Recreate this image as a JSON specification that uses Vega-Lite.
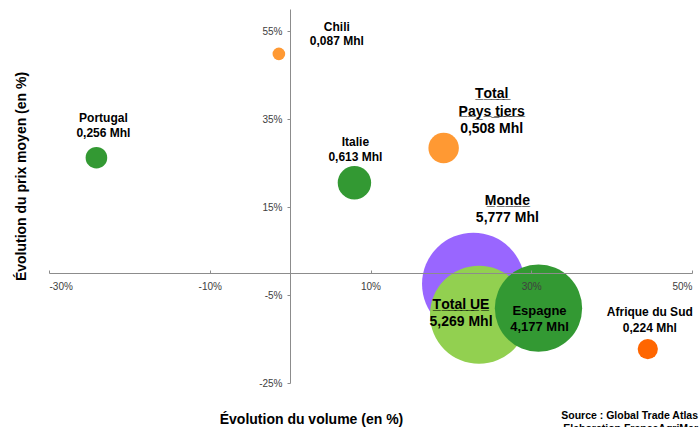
{
  "$schema": "https://vega.github.io/schema/vega-lite/v6.json",
  "width": 643,
  "height": 374,
  "autosize": "none",
  "padding": {"left": 49, "top": 9, "right": 7, "bottom": 44},
  "config": {
    "view": {"stroke": null},
    "font": "Liberation Sans",
    "text": {"font": "Liberation Sans"}
  },
  "title": {
    "text": ["Source : Global Trade Atlas", "Elaboration FranceAgriMer"],
    "orient": "bottom",
    "anchor": "end",
    "frame": "group",
    "fontSize": 10.5,
    "fontWeight": "bold",
    "color": "#000000",
    "lineHeight": 13,
    "offset": -15,
    "dx": 6
  },
  "data": {
    "values": [
      {"nom": "Monde", "groupe": "Monde", "volume": 5.777, "evol_volume": 22.8, "evol_prix": -2.5, "label": "M\u0332o\u0332n\u0332d\u0332e\u0332\n5,777 Mhl"},
      {"nom": "Total UE", "groupe": "Total UE", "volume": 5.269, "evol_volume": 23.5, "evol_prix": -9.5, "label": "T\u0332o\u0332t\u0332a\u0332l\u0332 \u0332U\u0332E\u0332\n5,269 Mhl"},
      {"nom": "Espagne", "groupe": "UE", "volume": 4.177, "evol_volume": 30.9, "evol_prix": -8.0, "label": "Espagne\n4,177 Mhl"},
      {"nom": "Italie", "groupe": "UE", "volume": 0.613, "evol_volume": 8.0, "evol_prix": 20.5, "label": "Italie\n0,613 Mhl"},
      {"nom": "Portugal", "groupe": "UE", "volume": 0.256, "evol_volume": -24.1, "evol_prix": 26.2, "label": "Portugal\n0,256 Mhl"},
      {"nom": "Total Pays tiers", "groupe": "Pays tiers", "volume": 0.508, "evol_volume": 19.1, "evol_prix": 28.4, "label": "T\u0332o\u0332t\u0332a\u0332l\u0332\nP\u0332a\u0332y\u0332s\u0332 \u0332t\u0332i\u0332e\u0332r\u0332s\u0332\n0,508 Mhl"},
      {"nom": "Chili", "groupe": "Pays tiers", "volume": 0.087, "evol_volume": -1.4, "evol_prix": 49.8, "label": "Chili\n0,087 Mhl"},
      {"nom": "Afrique du Sud", "groupe": "Afrique du Sud", "volume": 0.224, "evol_volume": 44.5, "evol_prix": -17.3, "label": "Afrique du Sud\n0,224 Mhl"}
    ]
  },
  "encoding": {
    "x": {
      "field": "evol_volume",
      "type": "quantitative",
      "scale": {"domain": [-30, 50], "nice": false, "zero": false},
      "axis": {
        "values": [-30, -10, 10, 30, 50],
        "labelExpr": "datum.value + '%'",
        "offset": -110,
        "zindex": 1,
        "grid": false,
        "domainColor": "#8c8c8c",
        "tickColor": "#8c8c8c",
        "tickSize": -3,
        "labelPadding": 11,
        "labelFontSize": 10,
        "labelColor": "#404040",
        "labelFont": "Liberation Sans",
        "title": "Évolution du volume (en %)",
        "titleFont": "Liberation Sans",
        "titleFontSize": 14,
        "titleFontWeight": "bold",
        "titleColor": "#000000",
        "titleX": 262,
        "titleY": 150,
        "titleAlign": "center",
        "titleBaseline": "alphabetic",
        "titleAnchor": null
      }
    },
    "y": {
      "field": "evol_prix",
      "type": "quantitative",
      "scale": {"domain": [-25, 60], "nice": false, "zero": false},
      "axis": {
        "values": [-25, -5, 15, 35, 55],
        "labelExpr": "datum.value + '%'",
        "offset": -241,
        "zindex": 1,
        "grid": false,
        "domainColor": "#8c8c8c",
        "tickColor": "#8c8c8c",
        "tickSize": 3,
        "labelPadding": 5,
        "labelFontSize": 10,
        "labelColor": "#404040",
        "labelFont": "Liberation Sans",
        "title": "Évolution du prix moyen (en %)",
        "titleFont": "Liberation Sans",
        "titleFontSize": 14,
        "titleFontWeight": "bold",
        "titleColor": "#000000",
        "titleX": -265,
        "titleY": 167,
        "titleAngle": -90,
        "titleAlign": "center",
        "titleBaseline": "alphabetic",
        "titleAnchor": null
      }
    }
  },
  "layer": [
    {
      "mark": {"type": "circle", "opacity": 1},
      "encoding": {
        "size": {
          "field": "volume",
          "type": "quantitative",
          "scale": {"type": "linear", "domain": [0, 6], "range": [0, 10948], "zero": true},
          "legend": null
        },
        "color": {
          "field": "groupe",
          "type": "nominal",
          "scale": {
            "domain": ["Monde", "Total UE", "UE", "Pays tiers", "Afrique du Sud"],
            "range": ["#9966ff", "#92d050", "#339933", "#ff9933", "#ff6600"]
          },
          "legend": null
        },
        "order": {"field": "volume", "sort": "descending"}
      }
    },
    {
      "transform": [{"filter": "datum.nom === 'Chili'"}],
      "mark": {"type": "text", "dx": 58, "dy": -32, "baseline": "top", "align": "center", "fontSize": 12, "fontWeight": "bold", "lineBreak": "\n", "lineHeight": 14.5, "color": "#000000"},
      "encoding": {"text": {"field": "label"}}
    },
    {
      "transform": [{"filter": "datum.nom === 'Portugal'"}],
      "mark": {"type": "text", "dx": 7, "dy": -45, "baseline": "top", "align": "center", "fontSize": 12, "fontWeight": "bold", "lineBreak": "\n", "lineHeight": 15, "color": "#000000"},
      "encoding": {"text": {"field": "label"}}
    },
    {
      "transform": [{"filter": "datum.nom === 'Italie'"}],
      "mark": {"type": "text", "dx": 1, "dy": -46, "baseline": "top", "align": "center", "fontSize": 12, "fontWeight": "bold", "lineBreak": "\n", "lineHeight": 15, "color": "#000000"},
      "encoding": {"text": {"field": "label"}}
    },
    {
      "transform": [{"filter": "datum.nom === 'Total Pays tiers'"}],
      "mark": {"type": "text", "dx": 48, "dy": -61, "baseline": "top", "align": "center", "fontSize": 14, "fontWeight": "bold", "lineBreak": "\n", "lineHeight": 17.5, "color": "#000000"},
      "encoding": {"text": {"field": "label"}}
    },
    {
      "transform": [{"filter": "datum.nom === 'Monde'"}],
      "mark": {"type": "text", "dx": 34, "dy": -90, "baseline": "top", "align": "center", "fontSize": 14, "fontWeight": "bold", "lineBreak": "\n", "lineHeight": 17, "color": "#000000"},
      "encoding": {"text": {"field": "label"}}
    },
    {
      "transform": [{"filter": "datum.nom === 'Total UE'"}],
      "mark": {"type": "text", "dx": -18, "dy": -17, "baseline": "top", "align": "center", "fontSize": 14, "fontWeight": "bold", "lineBreak": "\n", "lineHeight": 17, "color": "#000000"},
      "encoding": {"text": {"field": "label"}}
    },
    {
      "transform": [{"filter": "datum.nom === 'Espagne'"}],
      "mark": {"type": "text", "dx": 1, "dy": -3, "baseline": "top", "align": "center", "fontSize": 13, "fontWeight": "bold", "lineBreak": "\n", "lineHeight": 15.5, "color": "#000000"},
      "encoding": {"text": {"field": "label"}}
    },
    {
      "transform": [{"filter": "datum.nom === 'Afrique du Sud'"}],
      "mark": {"type": "text", "dx": 2, "dy": -42, "baseline": "top", "align": "center", "fontSize": 12, "fontWeight": "bold", "lineBreak": "\n", "lineHeight": 16, "color": "#000000"},
      "encoding": {"text": {"field": "label"}}
    }
  ]
}
